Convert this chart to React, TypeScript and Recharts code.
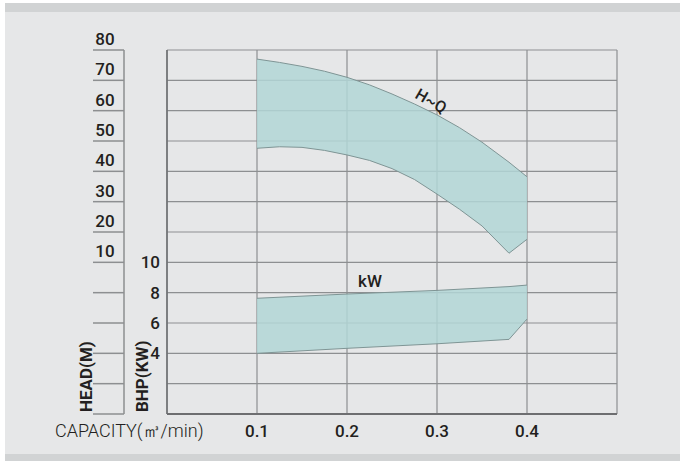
import { ComposedChart, Area, XAxis, YAxis, CartesianGrid } from "recharts";

// capacity (m3/min) sample points along the H-Q band
const capacity = [0.1, 0.125, 0.15, 0.175, 0.2, 0.225, 0.25, 0.275, 0.3, 0.325, 0.35, 0.38, 0.4];
const hqHigh = [77.0, 75.9, 74.6, 73.0, 71.0, 68.5, 65.5, 62.2, 58.6, 54.4, 49.6, 43.0, 38.2];
const hqLow = [47.6, 48.1, 47.9, 46.9, 45.4, 43.6, 40.9, 37.3, 32.5, 27.5, 22.0, 13.0, 17.6];

// kW band
const kwCapacity = [0.1, 0.2, 0.3, 0.38, 0.4];
const kwHigh = [7.63, 7.91, 8.15, 8.4, 8.5];
const kwLow = [4.0, 4.33, 4.63, 4.92, 6.26];

const capacityTicks = [0.1, 0.2, 0.3, 0.4];
const headTicks = [-40, -30, -20, -10, 0, 10, 20, 30, 40, 50, 60, 70, 80];
const headLabels = [10, 20, 30, 40, 50, 60, 70, 80];
const bhpTicks = [2, 4, 6, 8, 10, 12, 14, 16, 18, 20, 22];
const bhpLabels = [4, 6, 8, 10];

const data = capacity.map((q, i) => {
  const k = kwCapacity.indexOf(q);
  return {
    q,
    hq: [hqLow[i], hqHigh[i]],
    kw: k >= 0 ? [kwLow[k], kwHigh[k]] : undefined,
  };
});

const INK = "#231f20";
const GRID = "#8d8f91";
const AXIS = "#6d6e70";
const FONT = "Roboto, 'Noto Sans', sans-serif";

function HeadTick({ x, y, payload }: any) {
  const v = payload.value;
  return (
    <g>
      <line x1={x - 31} x2={x} y1={y} y2={y} stroke={GRID} strokeWidth={1.5} />
      {headLabels.includes(v) && (
        <text x={x - 19} y={y - 5} textAnchor="middle" fontSize={17} fontWeight={500} fontFamily={FONT} fill={INK}>
          {v}
        </text>
      )}
    </g>
  );
}

function BhpTick({ x, y, payload }: any) {
  const v = payload.value;
  if (!bhpLabels.includes(v)) return <g />;
  return (
    <text x={x - 7} y={y} dy="0.36em" textAnchor="end" fontSize={17} fontWeight={500} fontFamily={FONT} fill={INK}>
      {v}
    </text>
  );
}

function CapTick({ x, y, payload }: any) {
  return (
    <text x={x} y={y + 23} textAnchor="middle" fontSize={17} fontWeight={500} fontFamily={FONT} fill={INK}>
      {payload.value}
    </text>
  );
}

export default function App() {
  return (
    <div style={{ position: "absolute", left: 0, top: 0, width: 683, height: 461, background: "#ffffff", fontFamily: FONT }}>
      <div style={{ position: "absolute", left: 5, top: 3, width: 675, height: 458, background: "#e6e7e8" }} />
      <div style={{ position: "absolute", left: 5, top: 3, width: 675, height: 9, background: "#d1d3d4" }} />
      <div style={{ position: "absolute", left: 5, top: 454, width: 675, height: 7, background: "#d1d3d4" }} />

      <div style={{ position: "absolute", left: 0, top: 0 }}>
        <ComposedChart width={683} height={461} data={data} margin={{ top: 50, right: 66, left: 60, bottom: 17 }}>
          <CartesianGrid yAxisId="bhp" stroke={GRID} strokeWidth={1.2} />
          <XAxis
            dataKey="q"
            type="number"
            domain={[0, 0.5]}
            ticks={capacityTicks}
            height={30}
            tickSize={0}
            tickMargin={0}
            tick={<CapTick />}
            axisLine={{ stroke: AXIS, strokeWidth: 2 }}
          />
          <YAxis
            yAxisId="bhp"
            orientation="left"
            domain={[0, 24]}
            ticks={bhpTicks}
            width={43}
            tickSize={0}
            tickMargin={0}
            tick={<BhpTick />}
            axisLine={{ stroke: AXIS, strokeWidth: 1.5 }}
          />
          <YAxis
            yAxisId="head"
            orientation="left"
            domain={[-40, 80]}
            ticks={headTicks}
            width={64}
            tickSize={0}
            tickMargin={0}
            tick={<HeadTick />}
            axisLine={{ stroke: GRID, strokeWidth: 1.5 }}
          />
          <Area
            yAxisId="head"
            dataKey="hq"
            type="linear"
            fill="#b2d6d6"
            fillOpacity={0.85}
            stroke="#7f9595"
            strokeWidth={1}
            isAnimationActive={false}
          />
          <Area
            yAxisId="bhp"
            dataKey="kw"
            type="linear"
            connectNulls
            fill="#b2d6d6"
            fillOpacity={0.85}
            stroke="#7f9595"
            strokeWidth={1}
            isAnimationActive={false}
          />
        </ComposedChart>
      </div>

      <svg width={683} height={461} style={{ position: "absolute", left: 0, top: 0, pointerEvents: "none" }}>
        <text x={91.5} y={412} transform="rotate(-90 91.5 412)" fontSize={17} fontWeight={700} fontFamily={FONT} fill={INK}>
          HEAD(M)
        </text>
        <text x={148} y={412} transform="rotate(-90 148 412)" fontSize={17} fontWeight={700} fontFamily={FONT} fill={INK}>
          BHP(KW)
        </text>
        <text x={55} y={437} fontSize={18} fontWeight={300} fontFamily={FONT} fill={INK}>
          CAPACITY(㎥/min)
        </text>
        <text x={431} y={101} transform="rotate(30 431 101)" textAnchor="middle" dominantBaseline="central" fontSize={16} fontWeight={500} fontFamily={FONT} fill={INK}>
          H~Q
        </text>
        <text x={370} y={281} textAnchor="middle" dominantBaseline="central" fontSize={17} fontWeight={500} fontFamily={FONT} fill={INK}>
          kW
        </text>
      </svg>
    </div>
  );
}
